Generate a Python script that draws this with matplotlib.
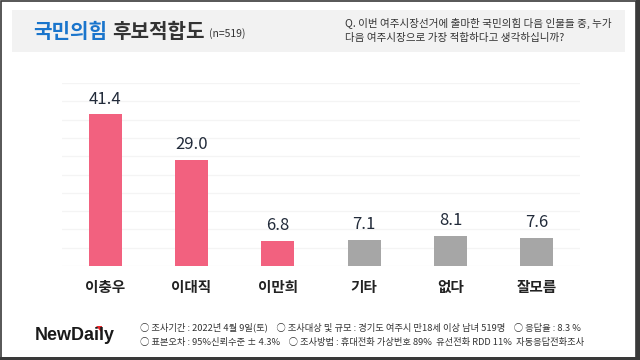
import matplotlib
matplotlib.use("Agg")
import matplotlib.pyplot as plt
from matplotlib.patches import Rectangle, Polygon

plt.rcParams['font.family'] = ['Noto Sans CJK KR', 'DejaVu Sans']

# data
categories = ['이충우', '이대직', '이만희', '기타', '없다', '잘모름']
values = [41.4, 29.0, 6.8, 7.1, 8.1, 7.6]
bar_colors = ['#f2617f', '#f2617f', '#f2617f', '#a6a6a6', '#a6a6a6', '#a6a6a6']

fig = plt.figure(figsize=(6.4, 3.6), dpi=100)
W, H = 640, 360

# header band
fig.patches.append(Rectangle((12 / W, 1 - 52 / H), 613 / W, 42 / H, transform=fig.transFigure,
                             facecolor='#f2f2f2', edgecolor='none', zorder=0))
# outer frame
fig.patches.append(Rectangle((0.5 / W, 2.5 / H), 635 / W, 357 / H, transform=fig.transFigure,
                             facecolor='none', edgecolor='#3a3a3a', lw=1.2, zorder=5))
fig.patches.append(Rectangle((636 / W, 0), 4 / W, 1, transform=fig.transFigure,
                             facecolor='#3a3a3a', edgecolor='none', zorder=5))
fig.patches.append(Rectangle((0, 0), 1, 3 / H, transform=fig.transFigure,
                             facecolor='#3a3a3a', edgecolor='none', zorder=5))

# title
t1 = fig.text(33 / W, 1 - 32 / H, '국민의힘', fontsize=14.5, fontweight='bold', color='#1a75cc', va='center')
fig.canvas.draw()
bb = t1.get_window_extent()
t2 = fig.text(bb.x1 / W + 5 / W, 1 - 32 / H, '후보적합도', fontsize=14.5, fontweight='bold', color='#333333', va='center')
bb2 = t2.get_window_extent()
fig.text(bb2.x1 / W + 5 / W, 1 - 34 / H, '(n=519)', fontsize=7.5, color='#333333', va='center')

fig.text(345 / W, 1 - 23 / H, 'Q. 이번 여주시장선거에 출마한 국민의힘 다음 인물들 중, 누가', fontsize=7.6, color='#333333', va='center')
fig.text(345 / W, 1 - 38 / H, '다음 여주시장으로 가장 적합하다고 생각하십니까?', fontsize=7.6, color='#333333', va='center')

# chart
ax = fig.add_axes([62 / W, 1 - 266 / H, 518 / W, 183 / H])
x = range(len(categories))
bars = ax.bar(x, values, width=0.38, color=bar_colors, zorder=3)
ax.set_xlim(-0.5, len(categories) - 0.5)
ax.set_ylim(0, 50)
ax.set_yticks(range(0, 51, 5))
ax.yaxis.grid(True, color='#f4f4f4', lw=0.9, zorder=0)
ax.tick_params(axis='y', left=False, labelleft=False)
ax.tick_params(axis='x', bottom=False, pad=6)
ax.set_xticks(list(x))
ax.set_xticklabels(categories, fontsize=10.5, fontweight='bold', color='#222222')
for s in ax.spines.values():
    s.set_visible(False)

for bar, v in zip(bars, values):
    ax.annotate(f'{v:.1f}', (bar.get_x() + bar.get_width() / 2, v), xytext=(0, 5),
                textcoords='offset points', ha='center', va='bottom',
                fontsize=12, color='#222b3a')

# footer
fig.text(35 / W, 1 - 336 / H, 'NewDaily', fontsize=13, fontweight='bold', color='#1a1a1a',
         va='center', family=['Liberation Sans', 'DejaVu Sans'])
fig.patches.append(Polygon([(96 / W, 1 - 326 / H), (102 / W, 1 - 326 / H), (102 / W, 1 - 333 / H)],
                           closed=True, transform=fig.transFigure, facecolor='#e8262a', edgecolor='none'))

fig.text(140 / W, 1 - 327 / H,
         '○ 조사기간 : 2022년 4월 9일(토)    ○ 조사대상 및 규모 : 경기도 여주시 만18세 이상 남녀 519명    ○ 응답율 : 8.3 %',
         fontsize=6.7, color='#333333', va='center')
fig.text(140 / W, 1 - 342 / H,
         '○ 표본오차 : 95%신뢰수준 ± 4.3%    ○ 조사방법 : 휴대전화 가상번호 89%  유선전화 RDD 11%  자동응답전화조사',
         fontsize=6.7, color='#333333', va='center')

fig.savefig('out.png', dpi=100)
